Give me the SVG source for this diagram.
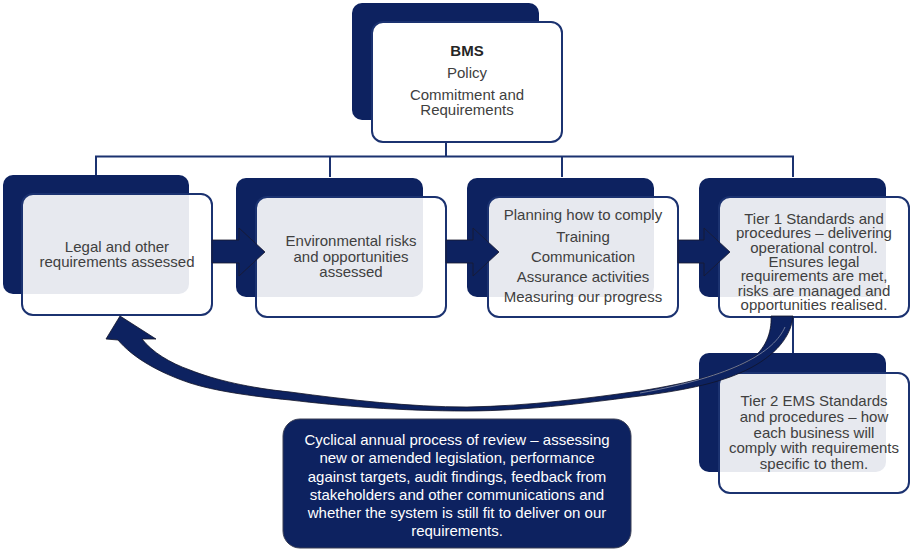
<svg xmlns="http://www.w3.org/2000/svg" width="911" height="552" viewBox="0 0 911 552">
<defs>
<style>
.dark{fill:#0d2260;}
.front{fill:#ffffff;fill-opacity:0.9;stroke:#1b3270;stroke-width:2;}
.solid{fill-opacity:1;}
.t{font-family:"Liberation Sans",Arial,sans-serif;font-size:15px;fill:#404040;text-anchor:middle;}
.tb{font-weight:bold;fill:#262626;}
.tw{fill:#ffffff;}
.line{fill:none;stroke:#1b3270;stroke-width:2;}
.blk{fill:#0d2260;stroke:#1a1a2e;stroke-width:0.8;stroke-linejoin:miter;}
</style>
</defs>
<rect width="911" height="552" fill="#ffffff"/>

<g id="node-bms">
<rect class="dark" x="352" y="3" width="187" height="117" rx="10"/>
<rect class="front solid" x="372" y="22" width="190" height="120" rx="11"/>
<text class="t tb" x="467" y="56">BMS</text>
<text class="t" x="467" y="78">Policy</text>
<text class="t" x="467" y="100">Commitment and</text>
<text class="t" x="467" y="115">Requirements</text>
</g>

<g id="node-legal">
<rect class="dark" x="3" y="175" width="186" height="119" rx="10"/>
<rect class="front" x="22" y="194" width="190" height="121" rx="11"/>
<text class="t" x="117" y="252">Legal and other</text>
<text class="t" x="117" y="267">requirements assessed</text>
</g>

<g id="node-env">
<rect class="dark" x="236" y="178" width="187" height="119" rx="10"/>
<rect class="front" x="256" y="197" width="190" height="120" rx="11"/>
<text class="t" x="351" y="246">Environmental risks</text>
<text class="t" x="351" y="261.5">and opportunities</text>
<text class="t" x="351" y="277">assessed</text>
</g>

<g id="node-planning">
<rect class="dark" x="467" y="178" width="187" height="119" rx="10"/>
<rect class="front" x="488" y="197" width="190" height="120" rx="11"/>
<text class="t" x="583" y="220">Planning how to comply</text>
<text class="t" x="583" y="241.5">Training</text>
<text class="t" x="583" y="261.5">Communication</text>
<text class="t" x="583" y="282">Assurance activities</text>
<text class="t" x="583" y="302">Measuring our progress</text>
</g>

<g id="node-tier1">
<rect class="dark" x="699" y="178" width="187" height="119" rx="10"/>
<rect class="front" x="719" y="197" width="190" height="120" rx="11"/>
<text class="t" x="814" y="224">Tier 1 Standards and</text>
<text class="t" x="814" y="238.3">procedures – delivering</text>
<text class="t" x="814" y="252.6">operational control.</text>
<text class="t" x="814" y="266.9">Ensures legal</text>
<text class="t" x="814" y="281.2">requirements are met,</text>
<text class="t" x="814" y="295.5">risks are managed and</text>
<text class="t" x="814" y="309.8">opportunities realised.</text>
</g>

<g id="node-tier2">
<rect class="dark" x="699" y="353" width="187" height="119" rx="10"/>
<rect class="front" x="719" y="373" width="190" height="120" rx="11"/>
<text class="t" x="814" y="406">Tier 2 EMS Standards</text>
<text class="t" x="814" y="422">and procedures – how</text>
<text class="t" x="814" y="437.5">each business will</text>
<text class="t" x="814" y="453">comply with requirements</text>
<text class="t" x="814" y="468.5">specific to them.</text>
</g>

<g id="node-review">
<rect x="283" y="419" width="348" height="129" rx="17" fill="#0d2260" stroke="#3a3f55" stroke-width="1"/>
<text class="t tw" x="457" y="445">Cyclical annual process of review – assessing</text>
<text class="t tw" x="457" y="463">new or amended legislation, performance</text>
<text class="t tw" x="457" y="481.5">against targets, audit findings, feedback from</text>
<text class="t tw" x="457" y="499.5">stakeholders and other communications and</text>
<text class="t tw" x="457" y="517.5">whether the system is still fit to deliver on our</text>
<text class="t tw" x="457" y="536">requirements.</text>
</g>

<g id="connectors">
<path class="line" d="M446,142 V156.5"/>
<path class="line" d="M96,175 V156.5 H793 V177"/>
<path class="line" d="M330,156.5 V177"/>
<path class="line" d="M562,156.5 V177"/>
<path class="line" d="M793,317 V353"/>
<polygon class="blk" points="212,240 239,240 239,228 265,252 239,276 239,263 212,263"/>
<polygon class="blk" points="446,240 473,240 473,228 499,252 473,276 473,263 446,263"/>
<polygon class="blk" points="678,240 704,240 704,228 730,252 704,276 704,263 678,263"/>
<path fill="#0d2260" stroke="#111428" stroke-width="0.8" stroke-linejoin="round" d="M793,316 C791,340 770,360 740,373 C715,384 680,391 640,396 C600,401 530,411 467,411 C400,411 340,406 290,400 C250,396 215,391 190,383 C160,373 133,358 118,340 L106,339 L120,316 L156,339 L142,339 C152,352 170,363 190,370 C215,380 250,388 290,392 C350,400 410,407 467,407 C530,406 590,398 640,391 C690,383 728,373 750,360 C765,350 772,333 771,316 Z"/>
<path fill="none" stroke="#8a90a8" stroke-width="0.8" d="M785,327 C774,352 735,376 640,393"/>
</g>
</svg>
